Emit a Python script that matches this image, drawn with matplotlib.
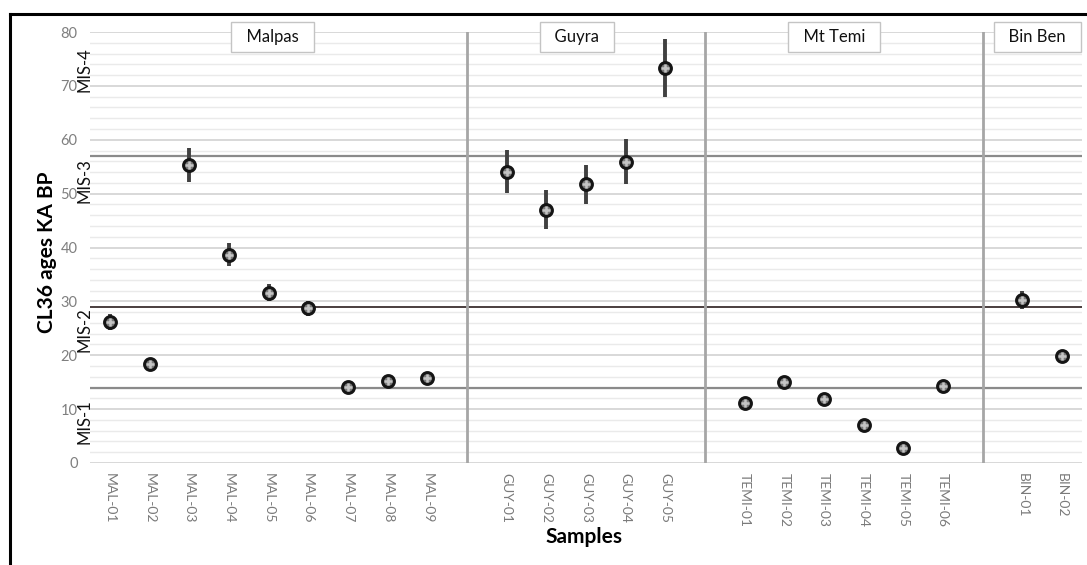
import matplotlib.pyplot as plt
from matplotlib.lines import Line2D
from matplotlib.transforms import blended_transform_factory

plt.rcParams["font.family"] = ["Lato", "DejaVu Sans"]

GROUP_NAMES = ["Malpas", "Guyra", "Mt Temi", "Bin Ben"]

MAL_SAMPLES = ["MAL-01", "MAL-02", "MAL-03", "MAL-04", "MAL-05",
               "MAL-06", "MAL-07", "MAL-08", "MAL-09"]
MAL_AGES = [26.1, 18.4, 55.3, 38.7, 31.6, 28.7, 14.1, 15.3, 15.7]
MAL_ERRORS = [1.5, 0.7, 3.1, 2.2, 1.6, 1.4, 0.8, 0.8, 1.2]

GUY_SAMPLES = ["GUY-01", "GUY-02", "GUY-03", "GUY-04", "GUY-05"]
GUY_AGES = [54.1, 47.0, 51.7, 55.9, 73.3]
GUY_ERRORS = [4.0, 3.6, 3.7, 4.2, 5.4]

TEMI_SAMPLES = ["TEMI-01", "TEMI-02", "TEMI-03", "TEMI-04", "TEMI-05", "TEMI-06"]
TEMI_AGES = [11.2, 15.1, 11.8, 7.0, 2.7, 14.2]
TEMI_ERRORS = [0.6, 0.7, 0.6, 0.6, 0.6, 0.6]

BIN_SAMPLES = ["BIN-01", "BIN-02"]
BIN_AGES = [30.3, 19.9]
BIN_ERRORS = [1.7, 0.7]

MIS_BOUNDARIES = [14, 29, 57]
MIS_LABELS = ["MIS-1", "MIS-2", "MIS-3", "MIS-4"]
MIS_LABEL_Y = [7.7, 24.7, 52.5, 73.0]

# where the site name boxes sit, as a fraction of the axes width
BOX_X = [0.184, 0.491, 0.750, 0.955]


def main():
    groups = [
        (MAL_SAMPLES, MAL_AGES, MAL_ERRORS),
        (GUY_SAMPLES, GUY_AGES, GUY_ERRORS),
        (TEMI_SAMPLES, TEMI_AGES, TEMI_ERRORS),
        (BIN_SAMPLES, BIN_AGES, BIN_ERRORS),
    ]

    # lay the samples out on a category axis, one empty slot between sites
    xs, labels, ages, errors, separators = [], [], [], [], []
    slot = 0
    for i, (names, vals, errs) in enumerate(groups):
        for name, v, e in zip(names, vals, errs):
            xs.append(slot)
            labels.append(name)
            ages.append(v)
            errors.append(e)
            slot += 1
        if i < len(groups) - 1:
            separators.append(slot)
            slot += 1

    fig = plt.figure(figsize=(10.87, 5.65), dpi=100)
    ax = fig.add_axes([90 / 1087, 1 - 463 / 565, 992 / 1087, 431 / 565])

    ax.set_xlim(-0.5, slot - 0.5)
    ax.set_ylim(0, 80)

    ax.set_yticks(range(0, 81, 10))
    ax.set_yticks(range(0, 81, 2), minor=True)
    ax.grid(True, axis="y", which="major", color="#d6d6d6", linewidth=1.3, zorder=0)
    ax.grid(True, axis="y", which="minor", color="#eaeaea", linewidth=1.0, zorder=0)
    ax.set_axisbelow(True)

    for spine in ax.spines.values():
        spine.set_visible(False)

    ax.tick_params(axis="y", which="both", length=0, pad=9, labelsize=10.5,
                   labelcolor="#7f7f7f")
    ax.set_xticks(xs)
    ax.set_xticklabels(labels, rotation=-90, fontsize=10, color="#7a7a7a")
    ax.tick_params(axis="x", length=0, pad=7)

    # MIS stage boundaries
    mis_colors = ["#8a8a8a", "#2a1c1c", "#8a8a8a"]
    mis_widths = [1.6, 1.2, 1.6]
    for yb, c, w in zip(MIS_BOUNDARIES, mis_colors, mis_widths):
        ax.axhline(yb, color=c, linewidth=w, zorder=2)

    for x in separators:
        ax.plot([x, x], [0, 80], color="#a6a6a6", linewidth=2, zorder=2)

    ax.errorbar(xs, ages, yerr=errors, fmt="o", ms=8.5, mfc="#7a7a7a",
                mec="#151515", mew=2.2, ecolor="#404040", elinewidth=2.8,
                capsize=0, zorder=4)
    ax.plot(xs, ages, "+", color="#c4c4c4", ms=5.5, mew=1.8, zorder=5)

    box_trans = blended_transform_factory(ax.transAxes, ax.transData)
    for name, bx in zip(GROUP_NAMES, BOX_X):
        ax.text(bx, 79.1, "  " + name + "  ", ha="center", va="center",
                fontsize=12, color="#111111", zorder=6, clip_on=False,
                transform=box_trans,
                bbox=dict(boxstyle="square,pad=0.4", facecolor="white",
                          edgecolor="#c4c4c4", linewidth=1))

    for lab, yl in zip(MIS_LABELS, MIS_LABEL_Y):
        ax.text(-0.006, yl, lab, rotation=90, ha="center", va="center",
                fontsize=12, color="#111111", transform=ax.get_yaxis_transform(),
                clip_on=False, zorder=6)

    fig.text(47 / 1087, 1 - 252 / 565, "CL36 ages KA BP", rotation=90,
             ha="center", va="center", fontsize=15, fontweight="bold")
    fig.text(584 / 1087, 1 - 537 / 565, "Samples", ha="center", va="center",
             fontsize=15, fontweight="bold")

    # outer frame of the original figure
    fig.add_artist(Line2D([10 / 1087, 10 / 1087], [0, 1 - 14 / 565],
                          color="black", linewidth=2.2, transform=fig.transFigure))
    fig.add_artist(Line2D([10 / 1087, 1], [1 - 14 / 565, 1 - 14 / 565],
                          color="black", linewidth=2.2, transform=fig.transFigure))

    fig.savefig("out.png", dpi=100)
    plt.close(fig)


if __name__ == "__main__":
    main()
